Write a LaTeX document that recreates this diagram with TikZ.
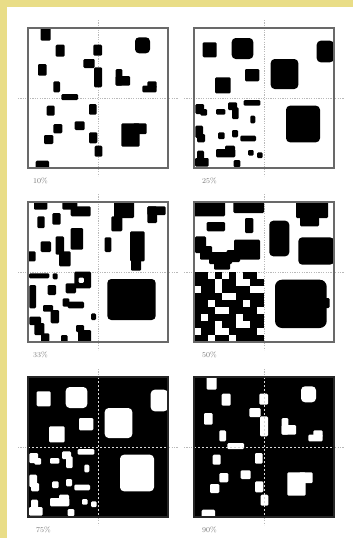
\documentclass[tikz,border=0pt]{standalone}
\usepackage{xcolor}
\definecolor{paperyellow}{RGB}{233,221,135}
\definecolor{framegray}{RGB}{105,105,105}
\definecolor{labelgray}{RGB}{120,120,120}

% blocks of the 10% panel, reused white on black for 90%
\newcommand{\tenblocks}{%
  \fill[blob] (12.7,0) rectangle (22.7,12.7);
  \fill[blob] (27.7,16.7) rectangle (36.7,28.7);
  \fill[blob] (65.3,16.7) rectangle (74,27.7);
  \fill[bigblob] (107,9.3) rectangle (122,25.3);
  \fill[blob] (10,36) rectangle (18.7,47.7);
  \fill[blob] (55.3,31) rectangle (66.7,40);
  \fill[blob] (66,39.3) rectangle (74,59.3);
  \fill[blob] (87.7,41) rectangle (94.3,57.7);
  \fill[blob] (87.7,48) rectangle (102,57.7);
  \fill[blob] (114.3,57.7) rectangle (128.7,64.3);
  \fill[blob] (119.3,53.3) rectangle (128.7,60);
  \fill[blob] (25.3,53.3) rectangle (32,64.3);
  \fill[blob] (33.3,66) rectangle (50,72);
  \fill[blob] (18.7,77.7) rectangle (26.7,87.7);
  \fill[blob] (61,76) rectangle (68.7,86.7);
  \fill[blob] (25.3,96) rectangle (34.3,105.3);
  \fill[blob] (46.7,93.3) rectangle (56.7,102);
  \fill[blob] (16,107) rectangle (25.3,116);
  \fill[blob] (61,104.3) rectangle (69.3,115.3);
  \fill[blob] (66.7,117.7) rectangle (74.3,128.7);
  \fill[blob] (93.3,95.3) rectangle (111.7,118.7);
  \fill[blob] (105,95.3) rectangle (118.7,106);
  \fill[blob] (7.7,132.7) rectangle (21,140);
}

% blocks of the 25% panel, reused white on black for 75%
\newcommand{\quarterblocks}{%
  \fill[blob] (8.7,14.3) rectangle (22.7,29.3);
  \fill[bigblob] (37.7,10) rectangle (59.3,31);
  \fill[blob] (51,41) rectangle (65.3,53.3);
  \fill[blob] (21,49.3) rectangle (36.7,65.3);
  \fill[bigblob] (122.7,12.7) rectangle (140,34.3);
  \fill[bigblob] (76.7,31) rectangle (104.3,61);
  \fill[bigblob] (92,77.7) rectangle (126,114.3);
  % fine quarter
  \fill[blob] (1.3,76) rectangle (10,86);
  \fill[blob] (6.3,81) rectangle (13,87.7);
  \fill[blob] (22,81) rectangle (31.3,86.7);
  \fill[blob] (34,74.3) rectangle (43,82);
  \fill[blob] (38,79.3) rectangle (44.7,91);
  \fill[blob] (49.7,72) rectangle (66.3,77.7);
  \fill[blob] (56.3,87.7) rectangle (61.3,95.3);
  \fill[blob] (1.3,97.7) rectangle (9,110);
  \fill[blob] (3,106) rectangle (11,114.3);
  \fill[blob] (24,104.3) rectangle (30.7,111);
  \fill[blob] (38,102) rectangle (44,109.3);
  \fill[blob] (46.3,107.7) rectangle (62,113.3);
  \fill[blob] (22,121) rectangle (41.3,129.3);
  \fill[blob] (31,117.7) rectangle (41,122.7);
  \fill[blob] (3,122.7) rectangle (10,134);
  \fill[blob] (1,130) rectangle (14.7,138.7);
  \fill[blob] (54,122) rectangle (59.7,127.7);
  \fill[blob] (63,124.3) rectangle (68.7,130);
  \fill[blob] (39.7,132) rectangle (46.3,139.3);
}

\begin{document}
\begin{tikzpicture}[x=1pt,y=-1pt,
  blob/.style={fill=black,rounded corners=1.2pt},
  bigblob/.style={blob,rounded corners=4pt},
  panelframe/.style={draw=framegray,line width=1.1pt},
  midline/.style={draw=gray!55,line width=0.6pt,dash pattern=on 1.2pt off 1.2pt},
  darkmid/.style={draw=white!85!black,line width=0.9pt,dash pattern=on 2pt off 2pt},
  pct/.style={anchor=west,inner sep=0pt,text=labelgray,font=\fontsize{7.5}{8}\selectfont}]
  \useasboundingbox (0,0) rectangle (353,538);
  \fill[paperyellow] (0,0) rectangle (353,538);
  \fill[white] (7,7) rectangle (353,538);

  % 10% panel
  \begin{scope}[shift={(28,28)}]
    \draw[midline] (-10,70) -- (150,70);
    \draw[midline] (70,-8) -- (70,148);
    \tenblocks
    \draw[panelframe] (0,0) rectangle (140,140);
    \node[pct] (lab10) at (5,153) {10\%};
  \end{scope}

  % 25% panel
  \begin{scope}[shift={(194,28)}]
    \draw[midline] (-10,70) -- (150,70);
    \draw[midline] (70,-8) -- (70,148);
    \quarterblocks
    \draw[panelframe] (0,0) rectangle (140,140);
    \node[pct] (lab25) at (8,153) {25\%};
  \end{scope}

  % 33% panel
  \begin{scope}[shift={(28,202)}]
    \draw[midline] (-10,70) -- (150,70);
    \draw[midline] (70,-8) -- (70,148);
    \fill[blob] (6,0) rectangle (19.3,7.7);
    \fill[blob] (34.3,0) rectangle (49.3,7.7);
    \fill[blob] (42.7,4.3) rectangle (62.7,14.3);
    \fill[blob] (9.3,14.3) rectangle (16.7,26);
    \fill[blob] (24.3,11) rectangle (32.7,22.7);
    \fill[blob] (42.7,26) rectangle (55,47.7);
    \fill[blob] (12.7,39.3) rectangle (23,50);
    \fill[blob] (27.7,34.3) rectangle (36,52.7);
    \fill[blob] (31,49.3) rectangle (42.7,64.3);
    \fill[blob] (0,49.3) rectangle (7.7,59.3);
    \fill[blob] (86,0) rectangle (106,16);
    \fill[blob] (83.3,14.3) rectangle (94.3,29.3);
    \fill[blob] (119.3,4.3) rectangle (129,21);
    \fill[blob] (119.3,4.3) rectangle (137.7,13);
    \fill[blob] (76.7,35.3) rectangle (83.3,50);
    \fill[blob] (102,29.3) rectangle (116.7,59.3);
    \fill[blob] (103,56) rectangle (113,68.7);
    \fill[blob] (1,71.3) rectangle (21.3,76.3);
    \fill[blob] (24.7,71.3) rectangle (29.7,77.3);
    \fill[blob,even odd rule] (46.3,69.7) rectangle (63,86.3) (50.5,75.5) rectangle (56,81);
    \fill[blob] (37.7,81.3) rectangle (48,91.3);
    \fill[blob] (1.3,83) rectangle (8,106.3);
    \fill[blob] (19.7,83) rectangle (28,93);
    \fill[blob] (34.7,96.3) rectangle (41.3,104.7);
    \fill[blob] (39.7,99.7) rectangle (56,106.3);
    \fill[blob] (15,103) rectangle (25,109.7);
    \fill[blob] (22.7,108) rectangle (31,121.3);
    \fill[blob] (63,111.3) rectangle (68,118);
    \fill[blob] (1.3,114.7) rectangle (13,123);
    \fill[blob] (6.3,121) rectangle (16.3,133);
    \fill[blob] (13,131.3) rectangle (21.3,139.7);
    \fill[blob] (48,123) rectangle (56,130);
    \fill[blob] (50,128) rectangle (63,140);
    \fill[blob] (33,133) rectangle (39.7,140);
    \fill[bigblob] (79.3,77) rectangle (127.7,118);
    \draw[panelframe] (0,0) rectangle (140,140);
    \node[pct] (lab33) at (5,153) {33\%};
  \end{scope}

  % 50% panel
  \begin{scope}[shift={(194,202)}]
    \draw[midline] (-10,70) -- (150,70);
    \draw[midline] (70,-8) -- (70,148);
    \fill[blob] (0,0) rectangle (31,14.3);
    \fill[blob] (39.3,0) rectangle (70,11);
    \fill[blob] (12.7,20) rectangle (31,29.3);
    \fill[blob] (51,16) rectangle (59.3,31);
    \fill[blob] (1,34.3) rectangle (12,51);
    \fill[blob] (6,44) rectangle (18,57.7);
    \fill[blob] (15,50) rectangle (38,62);
    \fill[blob] (20,55) rectangle (36,67.7);
    \fill[blob] (32.7,48) rectangle (46,60);
    \fill[blob] (40,37.7) rectangle (66,57.7);
    \fill[bigblob] (75.3,18.7) rectangle (95.3,54.3);
    \fill[blob] (102,0) rectangle (134,16);
    \fill[blob] (106,14) rectangle (125,24.3);
    \fill[bigblob] (104.3,35.3) rectangle (140,62.7);
    % noisy quarter
    \foreach \row [count=\r from 0] in {
      {1,1,0,1,0,1,0,1,1,0},
      {1,1,1,0,1,1,0,0,1,1},
      {0,1,1,0,1,1,1,1,0,0},
      {1,1,1,1,0,0,1,1,1,1},
      {1,1,0,1,1,1,1,0,1,1},
      {1,1,1,0,0,1,1,1,1,0},
      {1,0,1,1,1,1,0,1,1,1},
      {1,1,1,0,1,1,0,0,1,1},
      {0,1,1,0,0,1,1,1,1,0},
      {1,1,0,1,1,0,1,1,1,1}}
      \foreach \c [count=\k from 0] in \row {
        \ifnum\c=1 \fill[black] (\k*7,70+\r*7) rectangle ++(7,7); \fi
      };
    \fill[bigblob,rounded corners=7pt] (81,77.7) rectangle (132.7,126);
    \fill[blob] (128,96) rectangle (135.5,106);
    \draw[panelframe] (0,0) rectangle (140,140);
    \node[pct] (lab50) at (8,153) {50\%};
  \end{scope}

  % 75% panel, inverse of 25%
  \begin{scope}[shift={(28,377)},blob/.style={fill=white,rounded corners=1.2pt}]
    \draw[midline] (-10,70) -- (150,70);
    \draw[midline] (70,-8) -- (70,148);
    \fill[black] (0,0) rectangle (140,140);
    \quarterblocks
    \draw[darkmid] (0,70) -- (140,70);
    \draw[darkmid] (70,0) -- (70,140);
    \draw[panelframe,draw=black!85] (0,0) rectangle (140,140);
    \node[pct] (lab75) at (8,153) {75\%};
  \end{scope}

  % 90% panel, inverse of 10%
  \begin{scope}[shift={(194,377)},blob/.style={fill=white,rounded corners=1.2pt}]
    \draw[midline] (-10,70) -- (150,70);
    \draw[midline] (70,-8) -- (70,148);
    \fill[black] (0,0) rectangle (140,140);
    \tenblocks
    \draw[darkmid] (0,70) -- (140,70);
    \draw[darkmid] (70,0) -- (70,140);
    \draw[panelframe,draw=black!85] (0,0) rectangle (140,140);
    \node[pct] (lab90) at (8,153) {90\%};
  \end{scope}
\end{tikzpicture}
\end{document}
